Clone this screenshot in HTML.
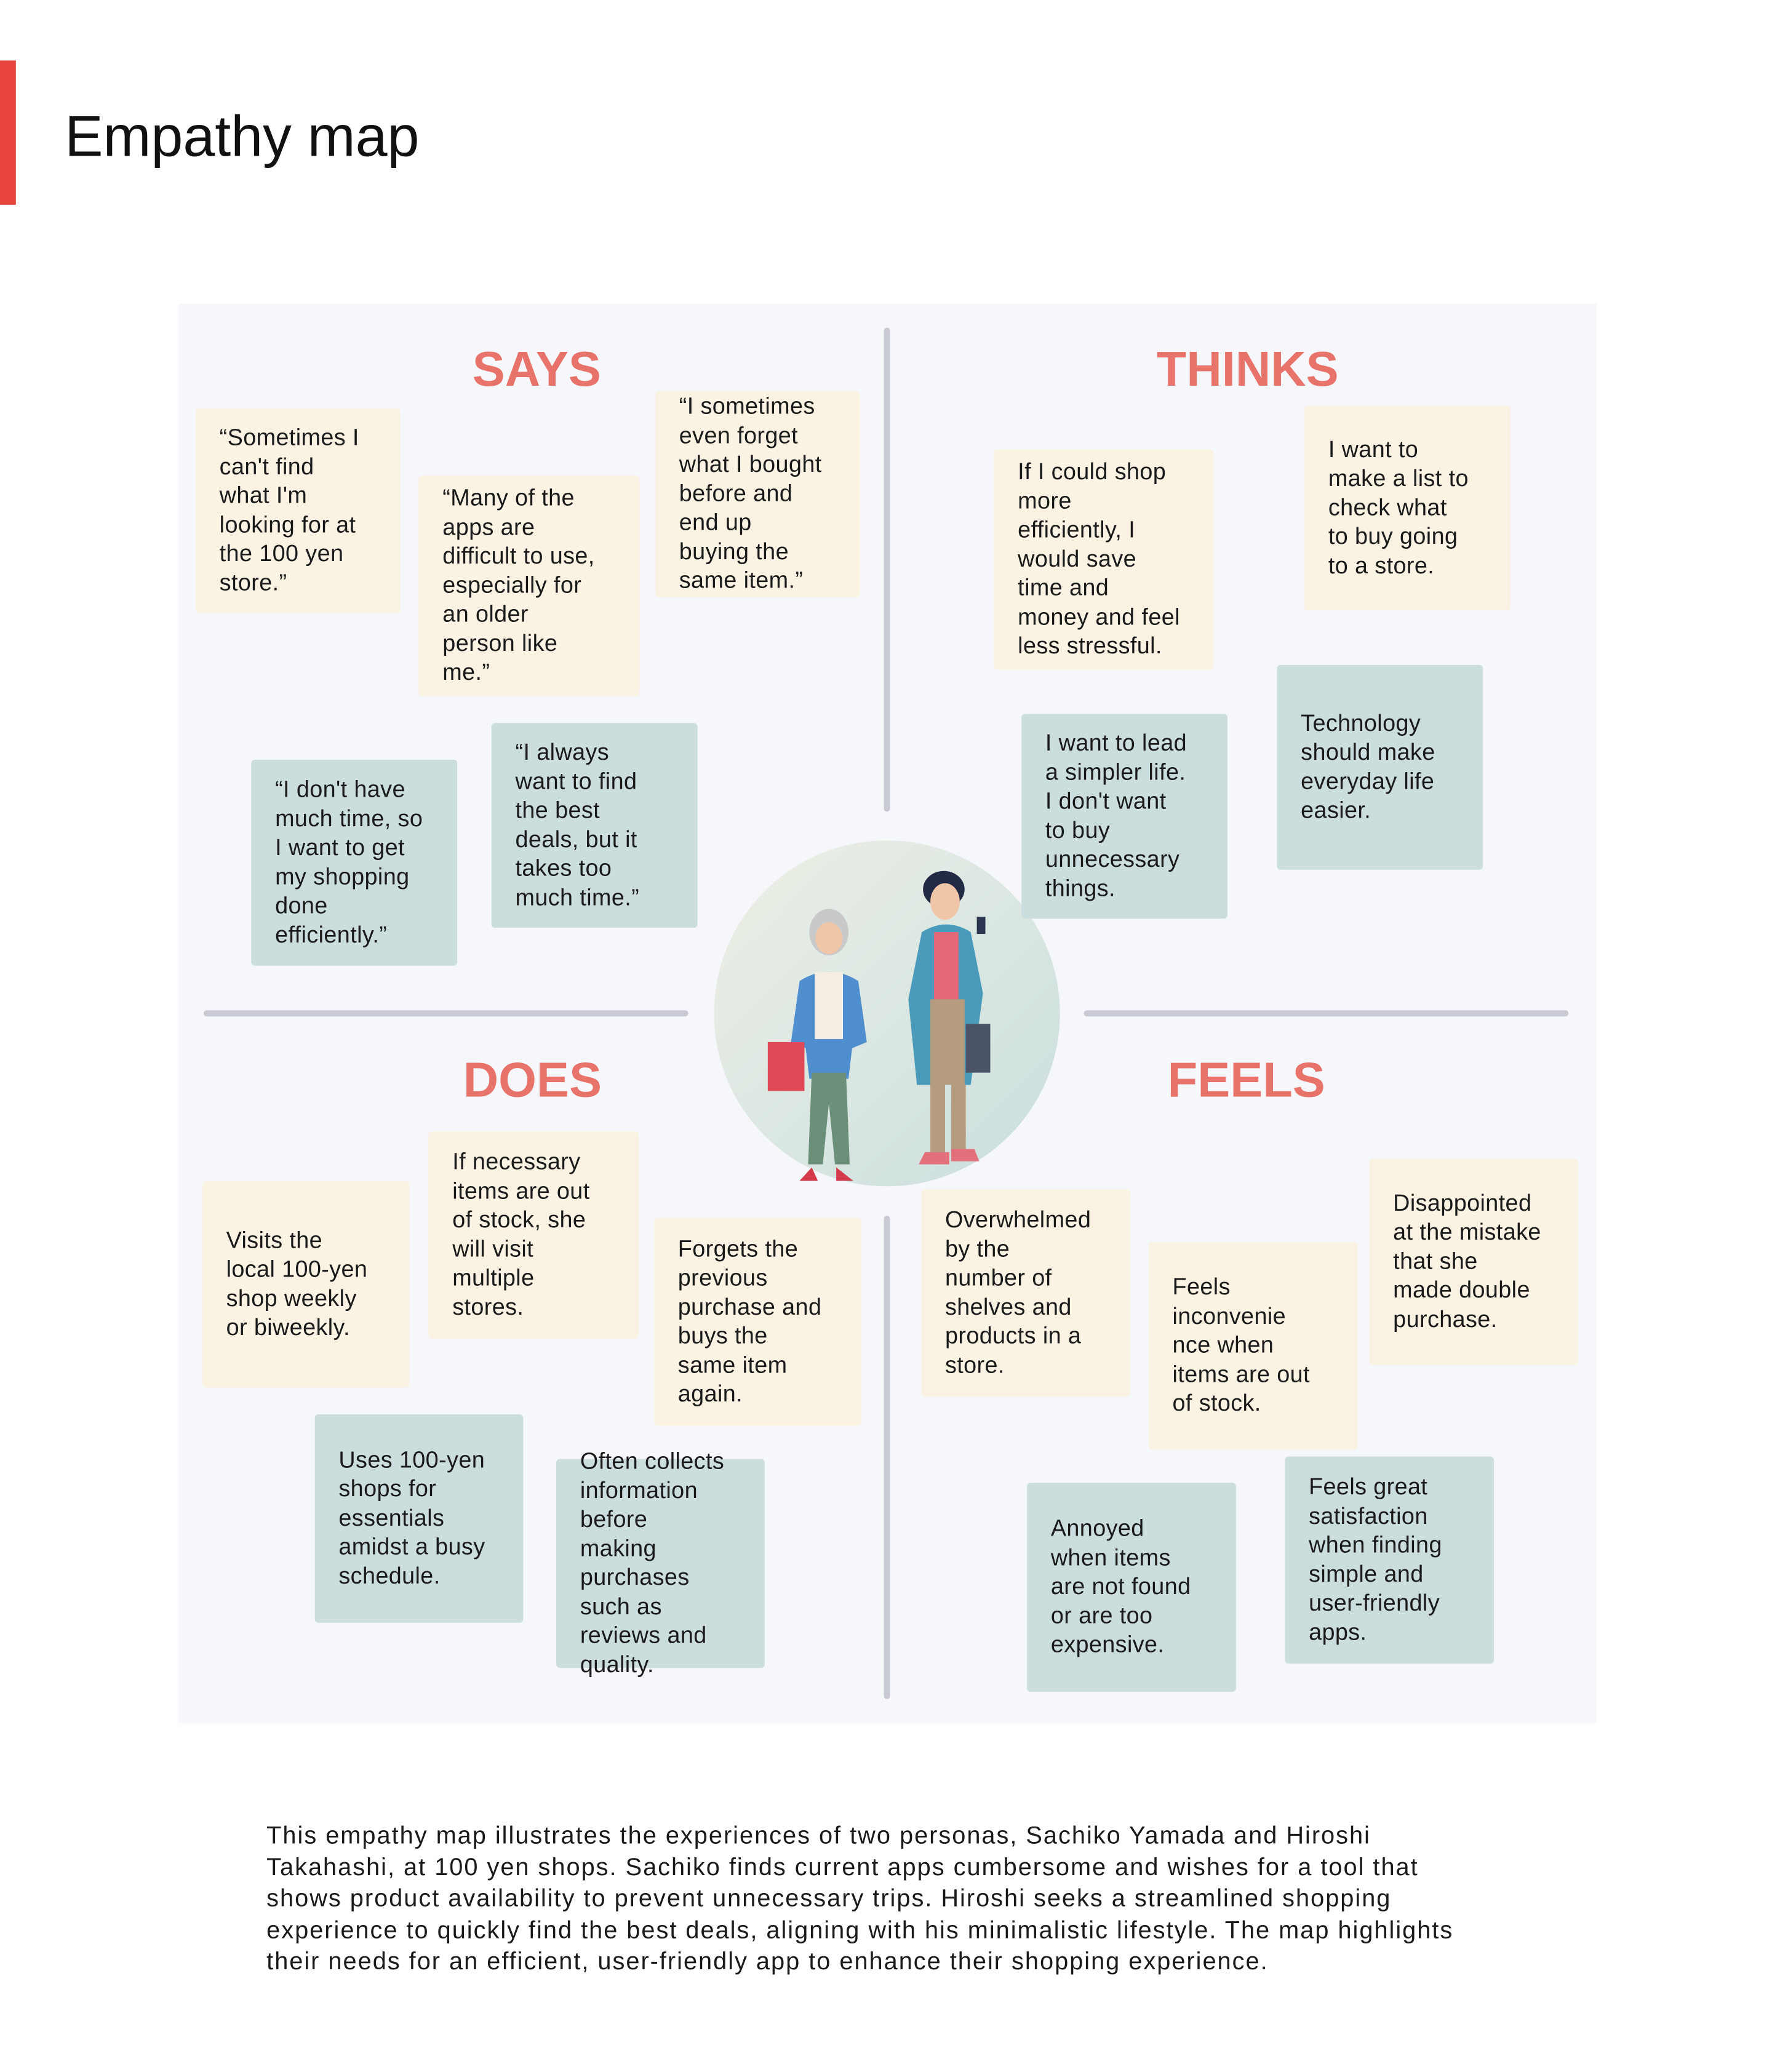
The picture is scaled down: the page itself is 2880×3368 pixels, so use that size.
<!DOCTYPE html>
<html><head><meta charset="utf-8"><style>
*{margin:0;padding:0;box-sizing:border-box}
body{width:2880px;height:3368px;background:#fff;position:relative;font-family:"Liberation Sans",sans-serif;color:#1a1a1a;overflow:hidden}
#w{position:absolute;left:0;top:0;width:2880px;height:3368px;transform:scale(0.9935);transform-origin:0 0}
.abs{position:absolute}
.n{position:absolute;display:flex;flex-direction:column;justify-content:center;padding:0 39px;font-size:38px;line-height:47.5px;white-space:nowrap;border-radius:6px;letter-spacing:0.4px}
.y{background:#faf3e3}.t{background:#cbdedd}
.h{position:absolute;font-size:80px;font-weight:bold;color:#e8736a;transform:translateX(-50%);line-height:1}
.vl{position:absolute;width:10px;background:#c8cad3;border-radius:5px}
.hl{position:absolute;height:10px;background:#c8cad3;border-radius:5px}
</style></head><body><div id="w">
<div class="abs" style="left:0;top:99px;width:26px;height:236px;background:#e8463c"></div>
<div class="abs" style="left:106px;top:168px;font-size:94px;line-height:110px;color:#111">Empathy map</div>

<div class="abs" style="left:292px;top:497px;width:2320px;height:2322px;background:#f5f7fa"></div>
<div class="vl" style="left:1446px;top:536px;height:792px"></div>
<div class="vl" style="left:1446px;top:1989px;height:791px"></div>
<div class="hl" style="left:333px;top:1653px;width:793px"></div>
<div class="hl" style="left:1773px;top:1653px;width:793px"></div>

<div class="h" style="left:878px;top:564px">SAYS</div>
<div class="h" style="left:2041px;top:564px">THINKS</div>
<div class="h" style="left:871px;top:1727px">DOES</div>
<div class="h" style="left:2039px;top:1727px">FEELS</div>

<svg class="abs" style="left:1168px;top:1375px" width="566" height="566" viewBox="0 0 566 566">
<defs><linearGradient id="g" x1="0" y1="0" x2="1" y2="1"><stop offset="0" stop-color="#eef0e6"/><stop offset="1" stop-color="#c9dedd"/></linearGradient></defs>
<circle cx="283" cy="283" r="283" fill="url(#g)"/>
<ellipse cx="188" cy="150" rx="32" ry="38" fill="#c9c9c9"/>
<ellipse cx="188" cy="160" rx="22" ry="26" fill="#f0c6a8"/>
<path d="M140 230 Q188 200 236 230 L250 330 L226 340 L220 390 L156 390 L150 340 L126 330 Z" fill="#4f8fcf"/>
<rect x="165" y="215" width="46" height="110" fill="#f4ede4"/>
<path d="M160 380 L216 380 L222 530 L198 530 L188 430 L178 530 L154 530 Z" fill="#6b8f78"/>
<rect x="88" y="330" width="60" height="80" fill="#e04a57"/>
<path d="M160 535 l-20 22 h30 z M200 535 l0 22 h28 z" fill="#d33a4a"/>
<ellipse cx="376" cy="80" rx="34" ry="30" fill="#222a44"/>
<ellipse cx="378" cy="100" rx="24" ry="30" fill="#f0c6a8"/>
<path d="M340 150 Q380 125 420 150 L440 250 L420 400 L332 400 L318 260 Z" fill="#4a9bbb"/>
<rect x="360" y="150" width="40" height="120" fill="#e36878"/>
<rect x="354" y="260" width="56" height="140" fill="#b59c7e"/>
<rect x="354" y="400" width="24" height="110" fill="#b59c7e"/><rect x="388" y="400" width="24" height="110" fill="#b59c7e"/>
<rect x="412" y="300" width="40" height="80" fill="#4a5466"/>
<rect x="430" y="125" width="14" height="28" fill="#2d3550"/>
<path d="M345 510 h40 v20 h-50 z M388 505 h38 l8 20 h-46 z" fill="#e3707b"/>
</svg>

<div class="n y" style="left:320px;top:668px;width:335px;height:335px">“Sometimes I<br>can't find<br>what I'm<br>looking for at<br>the 100 yen<br>store.”</div>
<div class="n y" style="left:685px;top:778px;width:361px;height:361px">“Many of the<br>apps are<br>difficult to use,<br>especially for<br>an older<br>person like<br>me.”</div>
<div class="n y" style="left:1072px;top:640px;width:335px;height:337px">“I sometimes<br>even forget<br>what I bought<br>before and<br>end up<br>buying the<br>same item.”</div>
<div class="n t" style="left:411px;top:1243px;width:337px;height:337px">“I don't have<br>much time, so<br>I want to get<br>my shopping<br>done<br>efficiently.”</div>
<div class="n t" style="left:804px;top:1183px;width:337px;height:335px">“I always<br>want to find<br>the best<br>deals, but it<br>takes too<br>much time.”</div>

<div class="n y" style="left:1626px;top:735px;width:359px;height:361px">If I could shop<br>more<br>efficiently, I<br>would save<br>time and<br>money and feel<br>less stressful.</div>
<div class="n y" style="left:2134px;top:664px;width:337px;height:335px">I want to<br>make a list to<br>check what<br>to buy going<br>to a store.</div>
<div class="n t" style="left:1671px;top:1168px;width:337px;height:335px">I want to lead<br>a simpler life.<br>I don't want<br>to buy<br>unnecessary<br>things.</div>
<div class="n t" style="left:2089px;top:1088px;width:337px;height:335px">Technology<br>should make<br>everyday life<br>easier.</div>

<div class="n y" style="left:331px;top:1933px;width:339px;height:337px">Visits the<br>local 100-yen<br>shop weekly<br>or biweekly.</div>
<div class="n y" style="left:701px;top:1851px;width:344px;height:339px">If necessary<br>items are out<br>of stock, she<br>will visit<br>multiple<br>stores.</div>
<div class="n y" style="left:1070px;top:1993px;width:339px;height:340px">Forgets the<br>previous<br>purchase and<br>buys the<br>same item<br>again.</div>
<div class="n t" style="left:515px;top:2314px;width:341px;height:341px">Uses 100-yen<br>shops for<br>essentials<br>amidst a busy<br>schedule.</div>
<div class="n t" style="left:910px;top:2387px;width:341px;height:342px">Often collects<br>information<br>before<br>making<br>purchases<br>such as<br>reviews and<br>quality.</div>

<div class="n y" style="left:1507px;top:1946px;width:342px;height:339px">Overwhelmed<br>by the<br>number of<br>shelves and<br>products in a<br>store.</div>
<div class="n y" style="left:1879px;top:2032px;width:342px;height:340px">Feels<br>inconvenie<br>nce when<br>items are out<br>of stock.</div>
<div class="n y" style="left:2240px;top:1896px;width:342px;height:337px">Disappointed<br>at the mistake<br>that she<br>made double<br>purchase.</div>
<div class="n t" style="left:1680px;top:2426px;width:342px;height:342px">Annoyed<br>when items<br>are not found<br>or are too<br>expensive.</div>
<div class="n t" style="left:2102px;top:2383px;width:342px;height:339px">Feels great<br>satisfaction<br>when finding<br>simple and<br>user-friendly<br>apps.</div>

<div class="abs" style="left:436px;top:2978px;font-size:40px;line-height:51.5px;white-space:nowrap;color:#1a1a1a;letter-spacing:2px">This empathy map illustrates the experiences of two personas, Sachiko Yamada and Hiroshi<br>Takahashi, at 100 yen shops. Sachiko finds current apps cumbersome and wishes for a tool that<br>shows product availability to prevent unnecessary trips. Hiroshi seeks a streamlined shopping<br>experience to quickly find the best deals, aligning with his minimalistic lifestyle. The map highlights<br>their needs for an efficient, user-friendly app to enhance their shopping experience.</div>
</div></body></html>
